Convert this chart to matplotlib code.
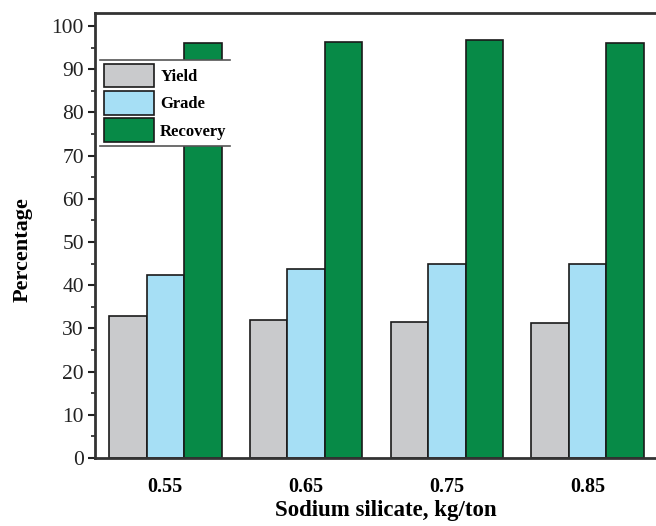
import matplotlib
matplotlib.use("Agg")
import matplotlib.pyplot as plt
import numpy as np
from matplotlib.lines import Line2D
from matplotlib.ticker import MultipleLocator

categories = ["0.55", "0.65", "0.75", "0.85"]
yield_vals = [32.9, 31.9, 31.5, 31.2]
grade_vals = [42.4, 43.7, 44.8, 44.8]
recovery_vals = [96.1, 96.4, 96.8, 96.1]
series_names = ["Yield", "Grade", "Recovery"]
colors = ["#c9cacc", "#a6dff5", "#078a47"]

plt.rcParams["font.family"] = ["Liberation Serif", "DejaVu Serif"]

fig = plt.figure(figsize=(6.56, 5.26), dpi=100)
ax = fig.add_axes([95 / 656, 1 - 458 / 526, 563 / 656, (458 - 13) / 526])

x = np.arange(len(categories))
w = 0.266
for i, (vals, name, c) in enumerate(zip([yield_vals, grade_vals, recovery_vals], series_names, colors)):
    ax.bar(x + (i - 1) * w, vals, width=w, color=c, edgecolor="#1a1a1a", linewidth=1.2, label=name, zorder=2)

ax.set_xlim(-0.5, 3.5)
ax.set_ylim(0, 103)
ax.set_xticks(x)
ax.set_xticklabels(categories, fontweight="bold", fontsize=14.5)
ax.yaxis.set_major_locator(MultipleLocator(10))
ax.yaxis.set_minor_locator(MultipleLocator(5))
ax.tick_params(axis="y", which="major", length=5, width=1.5, labelsize=15.5, direction="out",
               colors="#222222", pad=3)
ax.tick_params(axis="y", which="minor", length=3, width=1.2, direction="out", colors="#222222")
ax.tick_params(axis="x", length=0, pad=14)
for s in ax.spines.values():
    s.set_linewidth(2)
    s.set_color("#333333")

ax.set_ylabel("Percentage", fontweight="bold", fontsize=16)
ax.yaxis.set_label_coords((33 - 95) / 563, (458 - 250) / 445)
ax.set_xlabel("Sodium silicate, kg/ton", fontweight="bold", fontsize=16.5)
ax.xaxis.set_label_coords((386 - 95) / 563, -(500 - 458) / 445)

leg = ax.legend(loc="upper left", bbox_to_anchor=(5 / 563, 1 - 47 / 445), frameon=True,
                fancybox=False, framealpha=1, edgecolor="none", facecolor="white",
                handlelength=3.0, handleheight=1.83, labelspacing=0.21,
                handletextpad=0.4, borderpad=0.21, borderaxespad=0,
                prop={"weight": "bold", "size": 12})
leg.set_zorder(5)

fig.canvas.draw()
bb = leg.get_window_extent().transformed(fig.transFigure.inverted())
for yy in (bb.y0, bb.y1):
    fig.add_artist(Line2D([bb.x0, bb.x1], [yy, yy], color="#555555", linewidth=1.2,
                          transform=fig.transFigure, zorder=6))

fig.savefig("out.png", dpi=100)
